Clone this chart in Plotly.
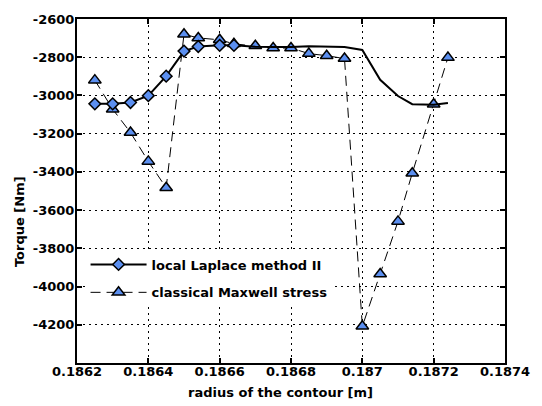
import plotly.graph_objects as go

# radius of the contour [m]
radius = [0.18625, 0.1863, 0.18635, 0.1864, 0.18645, 0.1865, 0.18654, 0.1866, 0.18664,
          0.1867, 0.18675, 0.1868, 0.18685, 0.1869, 0.18695, 0.1870, 0.18705, 0.1871,
          0.18714, 0.1872, 0.18724]

laplace = [-3044, -3044, -3037, -3001, -2899, -2768, -2744, -2738, -2738,
           -2745, -2746, -2746, -2742, -2744, -2747, -2762, -2918, -3003,
           -3046, -3049, -3040]
laplace_marked = 9  # number of leading points drawn with a diamond marker

maxwell = [-2920, -3072, -3194, -3345, -3483, -2680, -2699, -2709, -2730,
           -2740, -2752, -2752, -2781, -2792, -2807, -4208, -3934, -3659,
           -3407, -3046, -2802]

x_ticks = [0.1862, 0.1864, 0.1866, 0.1868, 0.1870, 0.1872, 0.1874]
x_ticklabels = ["0.1862", "0.1864", "0.1866", "0.1868", "0.187", "0.1872", "0.1874"]
y_ticks = [-4200, -4000, -3800, -3600, -3400, -3200, -3000, -2800, -2600]
y_ticklabels = [str(v) for v in y_ticks]

series_names = ["local Laplace method II", "classical Maxwell stress"]

FILL = "#5B8FF0"
FONT = dict(family="DejaVu Sans", size=13, color="black", weight="bold")

fig = go.Figure()

# Maxwell stress (drawn first, underneath)
fig.add_trace(go.Scatter(
    x=radius, y=maxwell, mode="lines+markers", showlegend=False,
    line=dict(color="black", width=1, dash="10px,6px"),
    marker=dict(symbol="triangle-up", size=11, color=FILL,
                line=dict(color="black", width=1.5)),
))
# Laplace line
fig.add_trace(go.Scatter(
    x=radius, y=laplace, mode="lines", showlegend=False,
    line=dict(color="black", width=2),
))
# Laplace markers
fig.add_trace(go.Scatter(
    x=radius[:laplace_marked], y=laplace[:laplace_marked], mode="markers",
    showlegend=False,
    marker=dict(symbol="diamond", size=9, color=FILL,
                line=dict(color="black", width=1.5)),
))
# legend entries
fig.add_trace(go.Scatter(
    x=[None], y=[None], mode="lines+markers", name=series_names[0],
    legendgroup="a",
    line=dict(color="black", width=2),
    marker=dict(symbol="diamond", size=9, color=FILL,
                line=dict(color="black", width=1.5)),
))
fig.add_trace(go.Scatter(
    x=[None], y=[None], mode="lines+markers", name=series_names[1],
    legendgroup="b",
    line=dict(color="black", width=1, dash="10px,6px"),
    marker=dict(symbol="triangle-up", size=11, color=FILL,
                line=dict(color="black", width=1.5)),
))

axis_common = dict(
    showline=True, linecolor="black", linewidth=2, mirror="allticks",
    ticks="inside", ticklen=5, tickwidth=2, tickcolor="black",
    showgrid=True, gridcolor="black", gridwidth=1, griddash="2px,4px",
    zeroline=False, tickfont=FONT, ticklabeloverflow="allow",
)

fig.update_xaxes(range=[0.1862, 0.1874], tickvals=x_ticks, ticktext=x_ticklabels,
                 ticklabelstandoff=-5, **axis_common)
fig.update_yaxes(range=[-4400, -2600], tickvals=y_ticks, ticktext=y_ticklabels,
                 ticklabelstandoff=-2, **axis_common)

fig.update_layout(
    width=542, height=406,
    margin=dict(l=77, r=24, t=13, b=43),
    paper_bgcolor="white", plot_bgcolor="white",
    font=FONT,
    legend=dict(x=0.02, y=0.33, xanchor="left", yanchor="top",
                bgcolor="white", borderwidth=0, itemwidth=56,
                font=FONT, tracegroupgap=8),
    annotations=[
        dict(text="Torque [Nm]", textangle=-90, xref="paper", yref="paper",
             x=-0.133, y=0.41, xanchor="center", yanchor="middle",
             showarrow=False, font=FONT),
        dict(text="radius of the contour [m]", xref="paper", yref="paper",
             x=0.476, y=-0.087, xanchor="center", yanchor="middle",
             showarrow=False, font=FONT),
    ],
)

fig.write_html("out.html")
